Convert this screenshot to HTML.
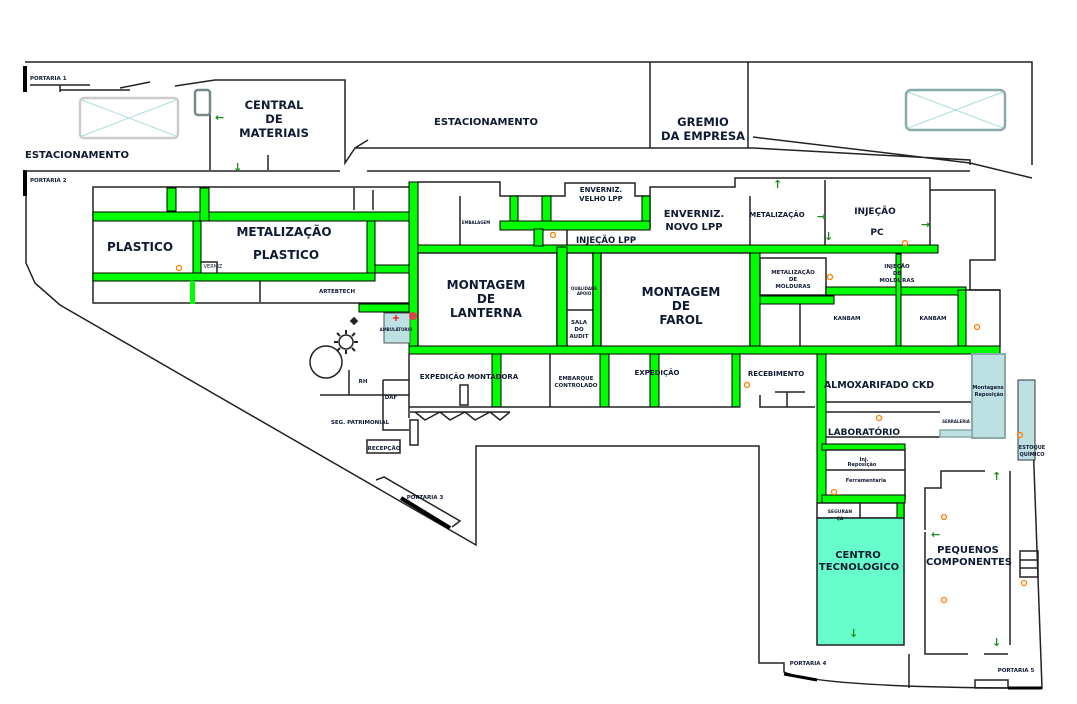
<!DOCTYPE html>
<html><head><meta charset="utf-8"><style>
html,body{margin:0;padding:0;background:#fff}
svg{display:block}
text{font-family:"DejaVu Sans","Liberation Sans",sans-serif;font-weight:bold;fill:#111a33}
.g{fill:#00ff00;stroke:#000;stroke-width:1}
.w{fill:none;stroke:#222;stroke-width:1.5}
.r{fill:#fff;stroke:#222;stroke-width:1.5}
.o{fill:none;stroke:#ff8000;stroke-width:1.3}
</style></head><body>
<svg width="1077" height="704" viewBox="0 0 1077 704" xmlns="http://www.w3.org/2000/svg">
<!-- outer boundary -->
<path class="w" d="M25 62 H1032 V165"/>
<rect x="23" y="66" width="4" height="26" fill="#000"/>
<rect x="23" y="170" width="4" height="26" fill="#000"/>
<path class="w" d="M26 196 V263 L35 283 L60 305 L476 545 V446 H759 V663 H784 V672 Q820 688 1042 688 L1033 440"/>
<path class="w" d="M25 171 H340 M367 171 H970"/>
<path class="w" d="M30 85 H90 M60 90 H130 M60 85 V92 M120 88 L150 82 M175 86 L215 80 H345 V163 L355 148 H650 M650 62 V148 M748 62 V148 M355 148 L368 140 M650 148 H753 L970 160 V165 M753 137 L970 163 L1032 178"/>
<path class="w" d="M210 92 V170 M268 155 V170"/>
<!-- parking -->
<rect x="80" y="98" width="98" height="40" rx="4" fill="none" stroke="#ccc" stroke-width="2.5"/>
<path d="M82 100 L176 136 M176 100 L82 136" stroke="#add" stroke-width="1"/>
<rect x="906" y="90" width="99" height="40" rx="5" fill="none" stroke="#8aa" stroke-width="2.5"/>
<path d="M908 92 L1003 128 M1003 92 L908 128" stroke="#add" stroke-width="1"/>
<rect x="195" y="90" width="15" height="25" rx="3" fill="none" stroke="#788" stroke-width="2.5"/>
<text x="30" y="80" font-size="5.5">PORTARIA 1</text>
<text x="30" y="182" font-size="5.5">PORTARIA 2</text>
<text x="25" y="158" font-size="10">ESTACIONAMENTO</text>
<text x="274" y="109" font-size="11.5" text-anchor="middle">CENTRAL</text>
<text x="274" y="123" font-size="11.5" text-anchor="middle">DE</text>
<text x="274" y="137" font-size="11.5" text-anchor="middle">MATERIAIS</text>
<text x="486" y="125" font-size="10" text-anchor="middle">ESTACIONAMENTO</text>
<text x="703" y="126" font-size="11.5" text-anchor="middle">GREMIO</text>
<text x="703" y="140" font-size="11.5" text-anchor="middle">DA EMPRESA</text>
<!-- left building -->
<rect class="r" x="93" y="187" width="317" height="116"/>
<path class="w" d="M260 280 V302 M200 262 V280 H217 V262 H200 M354 188 V210 M373 210 V190"/>
<rect class="g" x="93" y="212" width="317" height="9"/>
<rect class="g" x="167" y="188" width="9" height="23"/>
<rect class="g" x="200" y="188" width="9" height="33"/>
<rect class="g" x="193" y="221" width="8" height="52"/>
<rect class="g" x="93" y="273" width="282" height="8"/>
<rect class="g" x="367" y="221" width="8" height="52"/>
<rect class="g" x="375" y="265" width="34" height="8"/>
<rect x="190" y="281" width="5" height="23" fill="#00ff00"/>
<text x="140" y="251" font-size="12" text-anchor="middle">PLASTICO</text>
<text x="284" y="236" font-size="12" text-anchor="middle">METALIZAÇÃO</text>
<text x="286" y="259" font-size="12" text-anchor="middle">PLASTICO</text>
<text x="213" y="268" font-size="5" text-anchor="middle" style="font-weight:normal">VERNIZ</text>
<text x="337" y="293" font-size="5.5" text-anchor="middle">ARTEBTECH</text>
<circle class="o" cx="179" cy="268" r="2.5"/>
<!-- main vertical -->
<rect class="g" x="409" y="182" width="9" height="172"/>
<rect class="g" x="359" y="304" width="50" height="8"/>
<rect x="384" y="313" width="26" height="30" fill="#bde0e3" stroke="#555"/>
<text x="396" y="331" font-size="4" text-anchor="middle">AMBULÁTORIO</text>
<text x="396" y="321" font-size="10" style="fill:#e00" text-anchor="middle">+</text>
<circle cx="413" cy="316" r="4" fill="#d44"/>
<circle cx="346" cy="342" r="7" fill="none" stroke="#222" stroke-width="1.5"/>
<path d="M346 330 V334 M346 350 V354 M334 342 H338 M354 342 H358 M337 333 L340 336 M352 348 L355 351 M355 333 L352 336 M340 348 L337 351" stroke="#222" stroke-width="2"/>
<rect x="351" y="318" width="6" height="6" transform="rotate(45 354 321)" fill="#222"/>
<circle cx="326" cy="362" r="16" fill="none" stroke="#222" stroke-width="1.5"/>
<!-- central -->
<path class="w" d="M418 182 H500 V196 H565 V183 H635 V196 H650 V187 H735 V178 H930 V190 H995 V260 H970 V290 H1000 V347 M460 196 V248 M567 229 V248 M650 229 V187 M825 180 V248 M750 196 V248 M930 180 V248"/>
<rect class="g" x="418" y="245" width="520" height="8"/>
<rect class="g" x="500" y="221" width="150" height="9"/>
<rect class="g" x="510" y="196" width="8" height="25"/>
<rect class="g" x="542" y="196" width="9" height="25"/>
<rect class="g" x="534" y="229" width="9" height="17"/>
<rect class="g" x="642" y="196" width="8" height="25"/>
<rect class="r" x="418" y="253" width="139" height="94"/>
<rect class="g" x="557" y="247" width="10" height="106"/>
<rect class="r" x="567" y="253" width="26" height="94"/>
<path class="w" d="M567 310 H593"/>
<rect class="g" x="593" y="253" width="8" height="94"/>
<rect class="r" x="601" y="253" width="149" height="94"/>
<rect class="g" x="750" y="253" width="10" height="94"/>
<rect class="r" x="760" y="258" width="66" height="37"/>
<rect class="g" x="760" y="296" width="74" height="8"/>
<rect class="g" x="826" y="287" width="140" height="8"/>
<rect class="g" x="896" y="254" width="5" height="93"/>
<rect class="g" x="958" y="290" width="8" height="57"/>
<path class="w" d="M800 304 V347 M966 290 H1000"/>
<rect class="g" x="409" y="346" width="591" height="8"/>
<rect class="g" x="492" y="354" width="9" height="53"/>
<rect class="g" x="600" y="354" width="9" height="53"/>
<rect class="g" x="650" y="354" width="9" height="53"/>
<rect class="g" x="732" y="354" width="8" height="53"/>
<rect class="g" x="817" y="354" width="9" height="149"/>
<path class="w" d="M409 354 V407 H740 M550 354 V407 M760 395 V407 H815 M775 392 H805 M787 392 V407 M826 402 H972 M826 412 H940 M826 437 H940 M410 412 H510 M415 412 L425 420 L440 412 L450 420 L465 412 L475 420 L490 412 L500 420 L510 412 M349 370 V395 H409 M320 395 H349 M383 380 H409 M383 380 V430 H409 M409 395 V418 M383 430 H409 M367 440 V453 H400 V440 Z M410 420 V445 H418 V420 Z M460 385 V405 H468 V385 Z"/>
<text x="486" y="289" font-size="12" text-anchor="middle">MONTAGEM</text>
<text x="486" y="303" font-size="12" text-anchor="middle">DE</text>
<text x="486" y="317" font-size="12" text-anchor="middle">LANTERNA</text>
<text x="681" y="296" font-size="12" text-anchor="middle">MONTAGEM</text>
<text x="681" y="310" font-size="12" text-anchor="middle">DE</text>
<text x="681" y="324" font-size="12" text-anchor="middle">FAROL</text>
<text x="584" y="290" font-size="4" text-anchor="middle">QUALIDADE</text>
<text x="584" y="295" font-size="4" text-anchor="middle">APOIO</text>
<text x="579" y="324" font-size="5.5" text-anchor="middle">SALA</text>
<text x="579" y="331" font-size="5.5" text-anchor="middle">DO</text>
<text x="579" y="338" font-size="5.5" text-anchor="middle">AUDIT</text>
<text x="476" y="224" font-size="4" text-anchor="middle">EMBALAGEM</text>
<text x="601" y="192" font-size="7" text-anchor="middle">ENVERNIZ.</text>
<text x="601" y="201" font-size="7" text-anchor="middle">VELHO LPP</text>
<text x="606" y="243" font-size="8.5" text-anchor="middle">INJEÇÃO LPP</text>
<text x="694" y="217" font-size="10" text-anchor="middle">ENVERNIZ.</text>
<text x="694" y="230" font-size="10" text-anchor="middle">NOVO LPP</text>
<text x="777" y="217" font-size="7" text-anchor="middle">METALIZAÇÃO</text>
<text x="875" y="214" font-size="9" text-anchor="middle">INJEÇÃO</text>
<text x="877" y="235" font-size="9" text-anchor="middle">PC</text>
<text x="793" y="274" font-size="5.5" text-anchor="middle">METALIZAÇÃO</text>
<text x="793" y="281" font-size="5.5" text-anchor="middle">DE</text>
<text x="793" y="288" font-size="5.5" text-anchor="middle">MOLDURAS</text>
<text x="897" y="268" font-size="5.5" text-anchor="middle">INJEÇÃO</text>
<text x="897" y="275" font-size="5.5" text-anchor="middle">DE</text>
<text x="897" y="282" font-size="5.5" text-anchor="middle">MOLDURAS</text>
<text x="847" y="320" font-size="5.5" text-anchor="middle">KANBAM</text>
<text x="933" y="320" font-size="5.5" text-anchor="middle">KANBAM</text>
<text x="469" y="379" font-size="7" text-anchor="middle">EXPEDIÇÃO MONTADORA</text>
<text x="576" y="380" font-size="5.5" text-anchor="middle">EMBARQUE</text>
<text x="576" y="387" font-size="5.5" text-anchor="middle">CONTROLADO</text>
<text x="657" y="375" font-size="7" text-anchor="middle">EXPEDIÇÃO</text>
<text x="776" y="376" font-size="7" text-anchor="middle">RECEBIMENTO</text>
<text x="879" y="388" font-size="9.5" text-anchor="middle">ALMOXARIFADO CKD</text>
<text x="864" y="435" font-size="9" text-anchor="middle">LABORATÓRIO</text>
<text x="363" y="383" font-size="5.5" text-anchor="middle">RH</text>
<text x="391" y="399" font-size="5.5" text-anchor="middle">DAF</text>
<text x="360" y="424" font-size="5.5" text-anchor="middle">SEG. PATRIMONIAL</text>
<text x="384" y="450" font-size="5.5" text-anchor="middle">RECEPÇÃO</text>
<!-- blue areas -->
<rect x="972" y="354" width="33" height="84" fill="#bde0e3" stroke="#8aa" stroke-width="2"/>
<rect x="940" y="430" width="32" height="7" fill="#bde0e3" stroke="#8aa" stroke-width="1.5"/>
<text x="988" y="389" font-size="5" text-anchor="middle">Montagens</text>
<text x="989" y="396" font-size="5" text-anchor="middle">Reposição</text>
<text x="956" y="423" font-size="4" text-anchor="middle">SERRALERIA</text>
<rect x="1018" y="380" width="17" height="80" fill="#bde0e3" stroke="#333"/>
<text x="1032" y="449" font-size="5" text-anchor="middle">ESTOQUE</text>
<text x="1032" y="456" font-size="5" text-anchor="middle">QUÍMICO</text>
<!-- lower right -->
<rect class="g" x="822" y="444" width="83" height="6"/>
<path class="w" d="M826 450 H905 V500 M826 470 H905"/>
<rect class="g" x="822" y="495" width="83" height="8"/>
<rect class="r" x="817" y="503" width="87" height="15"/>
<rect class="g" x="897" y="503" width="7" height="15"/>
<path class="w" d="M860 503 V518"/>
<rect x="817" y="518" width="87" height="127" fill="#66ffcc" stroke="#222" stroke-width="1.5"/>
<text x="864" y="461" font-size="5" text-anchor="middle">Inj.</text>
<text x="862" y="466" font-size="5" text-anchor="middle">Reposição</text>
<text x="866" y="482" font-size="5" text-anchor="middle">Ferramentaria</text>
<text x="840" y="513" font-size="4.5" text-anchor="middle">SEGURAN</text>
<text x="840" y="520" font-size="4.5" text-anchor="middle">ÇA</text>
<text x="858" y="558" font-size="10" text-anchor="middle">CENTRO</text>
<text x="859" y="570" font-size="10" text-anchor="middle">TECNOLOGICO</text>
<path class="w" d="M925 527 V488 H941 V471 H985 M1010 471 V645 M925 530 V527 M925 532 V654 H968 M984 654 H1008 M909 654 V688 M1020 551 H1038 V577 H1020 Z M1020 560 H1038 M1020 568 H1038 M975 680 V688 H1008 V680 Z"/>
<text x="968" y="553" font-size="10" text-anchor="middle">PEQUENOS</text>
<text x="969" y="565" font-size="10" text-anchor="middle">COMPONENTES</text>
<text x="808" y="665" font-size="5.5" text-anchor="middle">PORTARIA 4</text>
<text x="1016" y="672" font-size="5.5" text-anchor="middle">PORTARIA 5</text>
<path d="M784 674 L817 680" stroke="#000" stroke-width="3"/>
<path d="M1008 688 H1042" stroke="#000" stroke-width="3"/>
<!-- portaria 3 -->
<path class="w" d="M376 480 L384 477 L460 521 L452 527"/>
<path d="M401 498 L450 528" stroke="#000" stroke-width="4"/>
<text x="425" y="499" font-size="5.5" text-anchor="middle">PORTARIA 3</text>
<!-- orange markers -->
<circle class="o" cx="553" cy="235" r="2.5"/>
<circle class="o" cx="905" cy="243" r="2.5"/>
<circle class="o" cx="830" cy="277" r="2.5"/>
<circle class="o" cx="977" cy="327" r="2.5"/>
<circle class="o" cx="747" cy="385" r="2.5"/>
<circle class="o" cx="879" cy="418" r="2.5"/>
<circle class="o" cx="1020" cy="435" r="2.5"/>
<circle class="o" cx="834" cy="492" r="2.5"/>
<circle class="o" cx="944" cy="517" r="2.5"/>
<circle class="o" cx="944" cy="600" r="2.5"/>
<circle class="o" cx="1024" cy="583" r="2.5"/>
<!-- green arrows -->
<g font-size="11">
<text x="215" y="121" style="fill:#1a8a1a">←</text>
<text x="233" y="171" style="fill:#1a8a1a">↓</text>
<text x="773" y="188" style="fill:#1a8a1a">↑</text>
<text x="817" y="220" style="fill:#1a8a1a">→</text>
<text x="824" y="240" style="fill:#1a8a1a">↓</text>
<text x="921" y="228" style="fill:#1a8a1a">→</text>
<text x="992" y="480" style="fill:#1a8a1a">↑</text>
<text x="931" y="538" style="fill:#1a8a1a">←</text>
<text x="992" y="646" style="fill:#1a8a1a">↓</text>
<text x="849" y="637" style="fill:#1a8a1a">↓</text>
</g>
</svg>
</body></html>
